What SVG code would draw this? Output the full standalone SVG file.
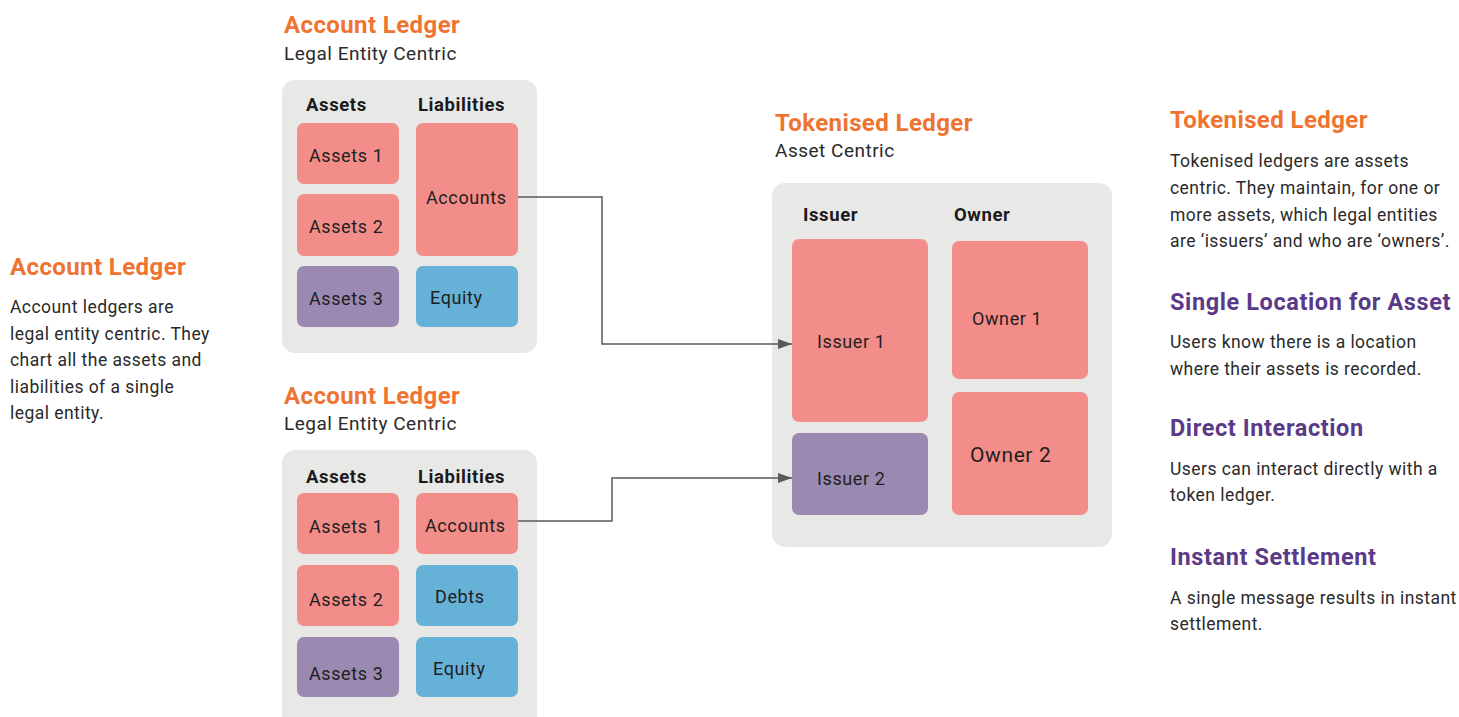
<svg xmlns="http://www.w3.org/2000/svg" width="1459" height="717" viewBox="0 0 1459 717">
<defs>
<style>
.title{font-family:Roboto,"Liberation Sans",sans-serif;font-weight:700;font-size:24px;letter-spacing:0.4px;fill:#EF7431}
.ptitle{font-family:Roboto,"Liberation Sans",sans-serif;font-weight:700;font-size:23.5px;letter-spacing:0.6px;fill:#5B3A87}
.sub{font-family:Roboto,"Liberation Sans",sans-serif;font-size:19px;letter-spacing:0.5px;fill:#2a2a2a}
.body{font-family:Roboto,"Liberation Sans",sans-serif;font-size:17.5px;letter-spacing:0.45px;fill:#2a2a2a}
.hdr{font-family:Roboto,"Liberation Sans",sans-serif;font-weight:700;font-size:18.5px;letter-spacing:0.6px;fill:#1a1a1a}
.lbl{font-family:Roboto,"Liberation Sans",sans-serif;font-size:18px;letter-spacing:0.6px;fill:#1e1e1e}
.cont{fill:#E8E9E7}
.pink{fill:#F38D89}
.purp{fill:#9A89B1}
.blue{fill:#66B1D8}
.conn{fill:none;stroke:#5a5a5a;stroke-width:1.5}
</style>
<marker id="arr" viewBox="0 0 14 10" refX="14" refY="5" markerWidth="14" markerHeight="10" markerUnits="userSpaceOnUse" orient="auto"><path d="M0,0 L14,5 L0,10 z" fill="#5a5a5a"/></marker>
</defs>
<rect width="1459" height="717" fill="#fff"/>

<g id="left-text">
<text class="title" x="10" y="275">Account Ledger</text>
<text class="body" x="10" y="313">Account ledgers are</text>
<text class="body" x="10" y="340">legal entity centric. They</text>
<text class="body" x="10" y="366">chart all the assets and</text>
<text class="body" x="10" y="393">liabilities of a single</text>
<text class="body" x="10" y="419">legal entity.</text>
</g>

<g id="ledger1">
<text class="title" x="284" y="33">Account Ledger</text>
<text class="sub" x="284" y="60">Legal Entity Centric</text>
<rect class="cont" x="282" y="80" width="255" height="273" rx="13"/>
<text class="hdr" x="306" y="111">Assets</text>
<text class="hdr" x="418" y="111">Liabilities</text>
<g id="l1-assets1"><rect class="pink" x="297" y="123" width="102" height="61" rx="7"/><text class="lbl" x="309" y="162">Assets 1</text></g>
<g id="l1-assets2"><rect class="pink" x="297" y="194" width="102" height="62" rx="7"/><text class="lbl" x="309" y="233">Assets 2</text></g>
<g id="l1-assets3"><rect class="purp" x="297" y="266" width="102" height="61" rx="7"/><text class="lbl" x="309" y="305">Assets 3</text></g>
<g id="l1-accounts"><rect class="pink" x="416" y="123" width="102" height="133" rx="7"/><text class="lbl" x="426" y="204">Accounts</text></g>
<g id="l1-equity"><rect class="blue" x="416" y="266" width="102" height="61" rx="7"/><text class="lbl" x="430" y="304">Equity</text></g>
</g>

<g id="ledger2">
<text class="title" x="284" y="404">Account Ledger</text>
<text class="sub" x="284" y="430">Legal Entity Centric</text>
<rect class="cont" x="282" y="450" width="255" height="280" rx="13"/>
<text class="hdr" x="306" y="483">Assets</text>
<text class="hdr" x="418" y="483">Liabilities</text>
<g id="l2-assets1"><rect class="pink" x="297" y="493" width="102" height="61" rx="7"/><text class="lbl" x="309" y="533">Assets 1</text></g>
<g id="l2-assets2"><rect class="pink" x="297" y="565" width="102" height="61" rx="7"/><text class="lbl" x="309" y="606">Assets 2</text></g>
<g id="l2-assets3"><rect class="purp" x="297" y="637" width="102" height="60" rx="7"/><text class="lbl" x="309" y="680">Assets 3</text></g>
<g id="l2-accounts"><rect class="pink" x="416" y="493" width="102" height="61" rx="7"/><text class="lbl" x="425" y="532">Accounts</text></g>
<g id="l2-debts"><rect class="blue" x="416" y="565" width="102" height="61" rx="7"/><text class="lbl" x="435" y="603">Debts</text></g>
<g id="l2-equity"><rect class="blue" x="416" y="637" width="102" height="60" rx="7"/><text class="lbl" x="433" y="675">Equity</text></g>
</g>

<g id="tokenised">
<text class="title" x="775" y="131">Tokenised Ledger</text>
<text class="sub" x="775" y="157">Asset Centric</text>
<rect class="cont" x="772" y="183" width="340" height="364" rx="13"/>
<text class="hdr" x="803" y="221">Issuer</text>
<text class="hdr" x="954" y="221">Owner</text>
<g id="issuer1"><rect class="pink" x="792" y="239" width="136" height="183" rx="7"/><text class="lbl" x="817" y="348">Issuer 1</text></g>
<g id="issuer2"><rect class="purp" x="792" y="433" width="136" height="82" rx="7"/><text class="lbl" x="817" y="485">Issuer 2</text></g>
<g id="owner1"><rect class="pink" x="952" y="241" width="136" height="138" rx="7"/><text class="lbl" x="972" y="325">Owner 1</text></g>
<g id="owner2"><rect class="pink" x="952" y="392" width="136" height="123" rx="7"/><text class="lbl" x="970" y="462" style="font-size:21px">Owner 2</text></g>
</g>

<g id="connectors">
<path class="conn" d="M518,197 H602 V344 H792" marker-end="url(#arr)"/>
<path class="conn" d="M518,521 H612 V478 H792" marker-end="url(#arr)"/>
</g>

<g id="right-text">
<text class="title" x="1170" y="128">Tokenised Ledger</text>
<text class="body" x="1170" y="167">Tokenised ledgers are assets</text>
<text class="body" x="1170" y="194">centric. They maintain, for one or</text>
<text class="body" x="1170" y="221">more assets, which legal entities</text>
<text class="body" x="1170" y="247">are ‘issuers’ and who are ‘owners’.</text>
<text class="ptitle" x="1170" y="310">Single Location for Asset</text>
<text class="body" x="1170" y="348">Users know there is a location</text>
<text class="body" x="1170" y="375">where their assets is recorded.</text>
<text class="ptitle" x="1170" y="436">Direct Interaction</text>
<text class="body" x="1170" y="475">Users can interact directly with a</text>
<text class="body" x="1170" y="501">token ledger.</text>
<text class="ptitle" x="1170" y="565">Instant Settlement</text>
<text class="body" x="1170" y="604">A single message results in instant</text>
<text class="body" x="1170" y="630">settlement.</text>
</g>
</svg>
